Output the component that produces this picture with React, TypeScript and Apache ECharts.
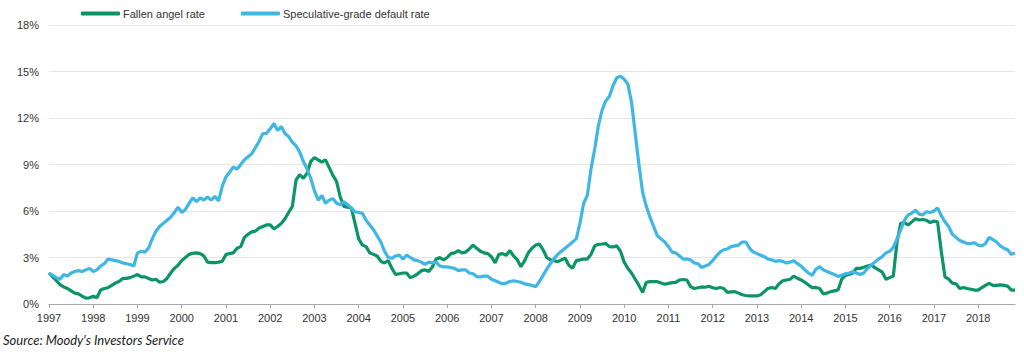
import { useEffect, useRef } from "react";
import * as echarts from "echarts";

const seriesNames = ["Fallen angel rate", "Speculative-grade default rate"];
const sourceNote = "Source: Moody's Investors Service";
const yTickValues = [0, 3, 6, 9, 12, 15, 18];

// Monthly values, Jan 1997 .. Nov 2018 (%)
const fallenAngelRate = [
  2.0, 1.75, 1.5, 1.25, 1.1, 1.0, 0.85, 0.7, 0.65, 0.5, 0.38, 0.4,
  0.5, 0.4, 0.9, 1.0, 1.05, 1.2, 1.35, 1.45, 1.65, 1.65, 1.7, 1.8,
  1.9, 1.75, 1.75, 1.65, 1.55, 1.6, 1.4, 1.45, 1.65, 2.0, 2.3, 2.5,
  2.8, 3.0, 3.2, 3.27, 3.3, 3.25, 3.1, 2.7, 2.67, 2.67, 2.7, 2.75,
  3.2, 3.25, 3.3, 3.6, 3.7, 4.3, 4.5, 4.65, 4.7, 4.9, 5.0, 5.1,
  5.1, 4.85, 5.0, 5.2, 5.5, 5.9, 6.3, 8.0, 8.35, 8.1, 8.45, 9.2,
  9.45, 9.3, 9.15, 9.3, 8.8, 8.3, 7.9, 6.9, 6.3, 6.25, 6.2, 5.2,
  4.2, 3.8, 3.7, 3.3, 3.2, 3.1, 2.75, 2.65, 2.8, 2.3, 1.9, 1.95,
  2.0, 2.0, 1.7, 1.8, 1.95, 2.15, 2.2, 2.1, 2.4, 2.9, 3.0, 2.85,
  3.0, 3.25, 3.3, 3.45, 3.3, 3.35, 3.55, 3.8, 3.6, 3.4, 3.3, 3.25,
  3.05, 2.65, 3.2, 3.25, 3.15, 3.45, 3.1, 2.85, 2.4, 2.8, 3.3, 3.6,
  3.8, 3.87, 3.5, 3.0, 2.85, 2.8, 2.73, 2.85, 2.95, 2.5, 2.3, 2.8,
  2.85, 2.9, 2.9, 3.2, 3.75, 3.85, 3.87, 3.9, 3.7, 3.68, 3.75, 3.4,
  2.7, 2.3, 2.0, 1.6, 1.2, 0.75, 1.4, 1.44, 1.44, 1.44, 1.35, 1.27,
  1.33, 1.38, 1.4, 1.55, 1.58, 1.55, 1.12, 1.0, 1.05, 1.1, 1.08, 1.15,
  1.05, 1.0, 1.06, 1.0, 0.75, 0.78, 0.8, 0.7, 0.6, 0.55, 0.52, 0.52,
  0.52, 0.6, 0.8, 1.0, 1.07, 1.0, 1.3, 1.5, 1.55, 1.6, 1.8, 1.66,
  1.55, 1.4, 1.23, 1.05, 1.07, 1.0, 0.65, 0.7, 0.8, 0.85, 0.9, 1.6,
  1.85, 1.9, 2.0, 2.3, 2.3, 2.37, 2.45, 2.52, 2.35, 2.2, 2.05, 1.6,
  1.7, 1.8, 4.0, 5.2, 5.25, 5.1, 5.3, 5.5, 5.42, 5.45, 5.4, 5.25,
  5.35, 5.3, 3.4, 1.75, 1.6, 1.35, 1.3, 1.0, 1.07, 1.0, 0.95, 0.9,
  0.9, 1.05, 1.2, 1.33, 1.2, 1.2, 1.23, 1.2, 1.15, 0.9, 0.9,
];

const specGradeDefaultRate = [
  2.0, 1.85, 1.7, 1.6, 1.9, 1.8, 2.0, 2.1, 2.15, 2.1, 2.2, 2.3,
  2.1, 2.2, 2.45, 2.6, 2.9, 2.85, 2.8, 2.75, 2.65, 2.6, 2.55, 2.45,
  3.3, 3.4, 3.35, 3.6, 4.2, 4.7, 5.0, 5.2, 5.4, 5.6, 5.9, 6.25,
  5.9, 6.1, 6.5, 6.85, 6.6, 6.85, 6.7, 6.9, 6.7, 6.95, 6.65, 7.6,
  8.2, 8.5, 8.85, 8.7, 9.0, 9.3, 9.5, 9.7, 10.1, 10.5, 11.0, 11.0,
  11.3, 11.65, 11.2, 11.45, 11.0, 10.8, 10.45, 10.2, 9.8, 9.2, 8.7, 8.1,
  7.3, 6.7, 7.0, 6.5, 6.7, 6.8, 6.5, 6.4, 6.6, 6.4, 6.2, 5.95,
  5.9, 5.85, 5.4, 5.1, 4.8, 4.4, 4.0, 3.4, 3.0, 2.95, 3.1, 3.15,
  2.9, 3.15, 3.0, 2.85, 2.8, 2.7, 2.55, 2.7, 2.65, 2.7, 2.45, 2.4,
  2.4, 2.35, 2.3, 2.15, 2.2, 2.2, 2.0, 1.95, 1.76, 1.75, 1.8, 1.8,
  1.6, 1.5, 1.4, 1.3, 1.35, 1.45, 1.5, 1.45, 1.4, 1.3, 1.25, 1.2,
  1.12, 1.45, 1.85, 2.25, 2.6, 2.95, 3.2, 3.4, 3.6, 3.8, 4.0, 4.2,
  5.2, 6.5, 7.0, 8.7, 10.0, 11.5, 12.5, 13.1, 13.4, 14.1, 14.6, 14.7,
  14.5, 14.2, 13.0, 11.0, 9.0, 7.2, 6.3, 5.6, 5.0, 4.4, 4.2, 4.0,
  3.7, 3.35, 3.3, 3.1, 2.9, 2.9, 2.85, 2.65, 2.6, 2.35, 2.45, 2.55,
  2.8, 3.1, 3.35, 3.5, 3.55, 3.7, 3.75, 3.8, 4.0, 4.0, 3.6, 3.35,
  3.25, 3.15, 3.05, 2.9, 2.85, 2.75, 2.8, 2.75, 2.65, 2.7, 2.8, 2.6,
  2.45, 2.2, 2.0, 1.85, 2.25, 2.4, 2.2, 2.1, 2.0, 1.9, 1.78, 1.85,
  1.95, 2.0, 2.08, 2.0, 1.9, 2.0, 2.3, 2.5, 2.7, 2.9, 3.05, 3.3,
  3.4, 3.65, 4.2, 4.8, 5.4, 5.75, 5.85, 6.05, 5.8, 5.75, 5.95, 5.9,
  6.0, 6.2, 5.7, 5.3, 5.0, 4.5, 4.3, 4.1, 4.0, 3.9, 3.9, 3.95,
  3.8, 3.75, 3.9, 4.3, 4.15, 4.0, 3.75, 3.6, 3.5, 3.2, 3.3,
];

const startYear = 1997;
const months: string[] = fallenAngelRate.map((_, i) => {
  const y = startYear + Math.floor(i / 12);
  const m = (i % 12) + 1;
  return `${y}-${m < 10 ? "0" + m : m}`;
});

const colors = ["#0a9467", "#3fb6e4"];
const FONT = "'Liberation Sans', Arial, Helvetica, sans-serif";

export default function App() {
  const ref = useRef<HTMLDivElement>(null);
  useEffect(() => {
    document.body.style.margin = "0";
    if (!ref.current) return;
    const chart = echarts.init(ref.current, null, { renderer: "svg" });
    chart.setOption({
      animation: false,
      backgroundColor: "#ffffff",
      textStyle: { fontFamily: FONT },
      legend: {
        left: 76,
        top: 3,
        itemWidth: 39,
        itemHeight: 4,
        itemGap: 36,
        icon: "roundRect",
        textStyle: { fontSize: 11, color: "#333", fontFamily: FONT, padding: [0, 0, 0, -2] },
        data: seriesNames,
      },
      grid: { left: 49, right: 9, top: 25, bottom: 53, containLabel: false },
      xAxis: {
        type: "category",
        data: months,
        boundaryGap: false,
        axisLine: { lineStyle: { color: "#a8a8a8", width: 1 } },
        axisTick: {
          length: 4,
          lineStyle: { color: "#a8a8a8" },
          interval: (i: number) => i % 12 === 0,
        },
        axisLabel: {
          interval: (i: number) => i % 12 === 0,
          formatter: (v: string) => v.slice(0, 4),
          fontSize: 11,
          color: "#333",
          margin: 8,
          fontFamily: FONT,
        },
        splitLine: { show: false },
      },
      yAxis: {
        type: "value",
        min: yTickValues[0],
        max: yTickValues[yTickValues.length - 1],
        interval: 3,
        axisLine: { show: false },
        axisTick: { show: false },
        axisLabel: {
          formatter: "{value}%",
          fontSize: 11,
          color: "#333",
          margin: 10,
          fontFamily: FONT,
        },
        splitLine: { lineStyle: { color: "#e6e6e6", width: 1 } },
      },
      series: [
        {
          name: seriesNames[0],
          type: "line",
          data: fallenAngelRate,
          symbol: "none",
          showSymbol: false,
          color: colors[0],
          lineStyle: { color: colors[0], width: 3.2 },
        },
        {
          name: seriesNames[1],
          type: "line",
          data: specGradeDefaultRate,
          symbol: "none",
          showSymbol: false,
          color: colors[1],
          lineStyle: { color: colors[1], width: 3.2 },
        },
      ],
      graphic: [
        {
          type: "text",
          left: 3,
          top: 333,
          style: {
            text: sourceNote,
            fontSize: 13,
            fontStyle: "italic",
            fill: "#222",
            fontFamily: "Lato, 'Open Sans', sans-serif",
          },
        },
      ],
    });
    return () => chart.dispose();
  }, []);
  return (
    <div
      ref={ref}
      style={{ position: "absolute", left: 0, top: 0, width: 1024, height: 357 }}
    />
  );
}
